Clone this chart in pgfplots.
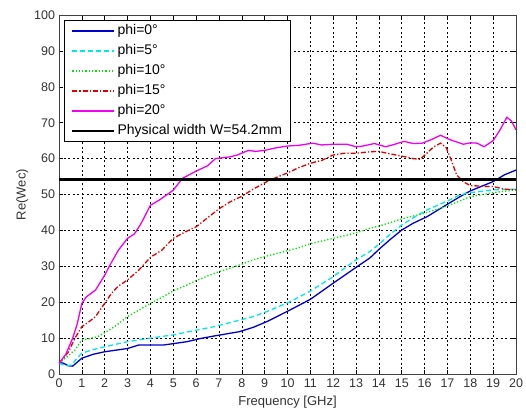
\documentclass[border=0pt]{standalone}
\usepackage{pgfplots}
\pgfplotsset{compat=1.18}
\usepackage{fontspec}
\setmainfont{Liberation Sans}
\definecolor{mblue}{RGB}{0,0,205}
\definecolor{mcyan}{RGB}{0,230,240}
\definecolor{mgreen}{RGB}{0,230,0}
\definecolor{mred}{RGB}{225,0,0}
\definecolor{mmag}{RGB}{240,0,240}
\begin{document}
\begin{tikzpicture}
\begin{axis}[
  at={(0,0)}, anchor=south west,
  scale only axis, width=457pt, height=359pt,
  xmin=0, xmax=20, ymin=0, ymax=100,
  xtick={0,1,...,20}, ytick={0,10,...,100},
  tick align=inside, tick pos=both, major tick length=4pt,
  grid=major,
  major grid style={black, line width=0.55pt, dash pattern=on 2pt off 2.6pt},
  axis line style={black!75, line width=0.6pt},
  every tick/.style={black, line width=0.6pt},
  /pgf/number format/assume math mode=true,
  tick label style={font=\fontsize{12.5}{14}\selectfont, text=black!80},
  xticklabel style={yshift=-1.5pt},
  yticklabel style={xshift=-0.5pt},
  xlabel={Frequency [GHz]}, ylabel={Re(Wec)},
  label style={font=\fontsize{13}{15}\selectfont, text=black!80},
  xlabel style={yshift=-1pt},
  ylabel style={yshift=-1pt},
  legend style={at={(0.011,0.986)}, anchor=north west, draw=black, line width=0.9pt,
    font=\fontsize{14}{16}\selectfont, inner xsep=6.5pt, inner ysep=2pt,
    nodes={inner sep=2pt, text height=10pt, text depth=3pt},
    row sep=3pt, fill=white},
  legend cell align=left,
  legend image code/.code={\draw[#1] (0pt,0pt) -- (42pt,0pt);},
]
\addplot[mblue, line width=1.3pt, legend image post style={line width=1.3pt}] coordinates {
(0,3.2)(0.2,3)(0.4,2.3)(0.6,2.2)(0.8,3.3)(1.0,4.4)(1.5,5.5)(2.0,6.2)(3.0,7.1)(3.5,8.1)(4.6,8.1)(5.6,9)(6.2,9.9)(6.8,10.6)(7.9,11.8)(8.5,13)(9.1,14.6)(10.1,17.8)(11.0,20.8)(12.0,25.3)(13.0,29.7)(13.6,32.3)(14.05,35)(14.5,37.5)(15.0,40.1)(15.5,42)(16.1,43.8)(17.0,47.3)(17.55,49.4)(18.0,51)(18.5,52.3)(19.0,53.6)(19.5,55.5)(20,56.8)};
\addlegendentry{phi=0°}
\addplot[mcyan, line width=1.3pt, dash pattern=on 5pt off 3pt, legend image post style={line width=1.3pt}] coordinates {
(0,3)(0.3,2.3)(0.55,2.5)(0.8,4.5)(1.0,5.8)(1.5,6.8)(2.0,7.6)(3.0,9)(4.0,10)(5.0,10.9)(6.0,12.2)(6.8,13.2)(7.9,15)(8.5,16)(9.1,17.4)(10.1,20.1)(11.0,23.1)(12.0,27.1)(13.0,31.8)(13.6,34.1)(14.05,36.4)(14.5,39)(15.0,41.5)(15.5,43.5)(16.1,45.7)(17.0,48.2)(17.55,49.9)(18.0,50.5)(19.0,51.3)(20,51.5)};
\addlegendentry{phi=5°}
\addplot[mgreen, line width=1.3pt, dash pattern=on 1.3pt off 2pt, legend image post style={line width=1.3pt}] coordinates {
(0,3)(0.3,4.5)(0.7,6.7)(1.0,9.5)(1.3,9.8)(1.7,10.4)(2.0,11.5)(2.5,13.5)(3.0,16)(3.5,17.8)(4.0,19.7)(4.5,21.3)(5.0,23.2)(5.5,24.5)(6.0,26)(6.5,27.3)(7.0,28.5)(7.5,29.5)(8.0,30.6)(8.5,31.8)(9.0,32.7)(9.8,34)(10.5,35.2)(11.0,36.3)(12.0,37.8)(13.0,39.3)(13.6,40.6)(14.0,41.2)(15.0,43.2)(16.0,44.8)(17.0,46.8)(18.0,49.4)(19.0,50.5)(20,51.3)};
\addlegendentry{phi=10°}
\addplot[mred, line width=1.3pt, dash pattern=on 5pt off 2pt on 1.3pt off 2pt, legend image post style={line width=1.3pt}] coordinates {
(0,3)(0.4,6)(0.7,10)(1.0,13.2)(1.3,14.5)(1.6,16)(2.0,19.7)(2.3,22.5)(2.6,24.5)(3.0,26.2)(3.5,29)(4.0,32.5)(4.5,34.5)(5.0,37.8)(5.5,39.5)(6.0,41)(6.5,43.5)(7.0,46)(7.5,48)(8.0,49.5)(8.5,51.5)(9.1,53.6)(9.6,55)(10,56)(10.5,57.5)(11,58.7)(11.5,59.5)(12,61)(12.5,61.5)(13,61.5)(13.6,61.9)(14.0,62)(14.5,61.3)(15.0,60.7)(15.5,60)(15.8,59.8)(16.1,61.5)(16.4,63.3)(16.7,64.3)(16.95,63)(17.2,59)(17.4,55.5)(17.7,53.5)(18.0,52.5)(18.5,52.3)(19.0,52.2)(19.5,51.5)(20,51.3)};
\addlegendentry{phi=15°}
\addplot[mmag, line width=1.3pt, legend image post style={line width=1.3pt}] coordinates {
(0,3)(0.3,5.5)(0.6,10)(0.8,14)(1.0,19.7)(1.2,21.5)(1.6,23.4)(2.0,27.5)(2.2,30)(2.6,34.5)(3.0,37.8)(3.3,39)(3.6,42)(4.0,47)(4.4,48.5)(5.0,51.2)(5.4,54.5)(6.0,56.5)(6.5,58)(6.85,60)(7.5,60.5)(7.8,61)(8.3,62.3)(8.6,62)(9.0,62.3)(9.5,63)(10,63.5)(10.5,63.7)(11.1,64.3)(11.5,63.8)(12,64)(12.6,64)(13.0,63.3)(13.3,63.5)(13.8,64.2)(14.3,63.3)(14.7,64)(15.1,64.8)(15.5,64.2)(15.9,64.3)(16.3,65.3)(16.7,66.5)(17.1,65.3)(17.7,64)(18.0,64.4)(18.3,64.3)(18.6,63.3)(19.0,65)(19.3,68)(19.6,71.5)(19.8,70.5)(20,68)};
\addlegendentry{phi=20°}
\addplot[black, line width=2.6pt, legend image post style={line width=2.6pt}] coordinates {(0,54.2)(20,54.2)};
\addlegendentry{Physical width W=54.2mm}
\end{axis}
\pgfresetboundingbox
\path[use as bounding box] (-59pt,-39pt) rectangle (467pt,374pt);
\end{tikzpicture}
\end{document}
